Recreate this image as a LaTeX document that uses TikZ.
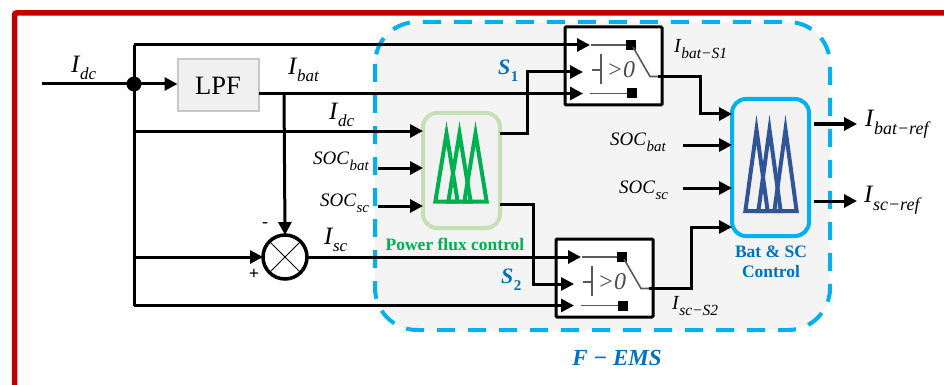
\documentclass[tikz,border=0pt]{standalone}
\usepackage{fontspec}
\setmainfont{Liberation Serif}
\usepackage{xcolor}
\usetikzlibrary{arrows.meta, positioning}
\definecolor{framered}{HTML}{C00000}
\definecolor{emscyan}{HTML}{00B0F0}
\definecolor{emsblue}{HTML}{0070C0}
\definecolor{fluxgreen}{HTML}{00B050}
\definecolor{fluxedge}{HTML}{C5E0B4}
\definecolor{fuzzyblue}{HTML}{2F5597}
\definecolor{panelgray}{HTML}{F4F4F4}
\newcommand{\sublbl}[3]{\textit{#1\kern.5pt\raisebox{-.3em}{\fontsize{#2}{#2}\selectfont #3}}}
\begin{document}
\begin{tikzpicture}[
  x=1pt, y=-1pt,
  wire/.style   = {line width=3pt, black},
  arr/.style    = {wire, -{Triangle[length=13pt,width=13pt]}},
  curlbl/.style = {inner sep=0pt, anchor=west, font=\fontsize{25}{27}\selectfont},
  swlbl/.style  = {inner sep=0pt, anchor=west, font=\fontsize{20}{22}\selectfont},
  soclbl/.style = {inner sep=0pt, anchor=west, font=\fontsize{19}{21}\selectfont},
  swbox/.style  = {draw=black, line width=3pt, fill=white, rounded corners=1pt,
                   minimum width=97pt, minimum height=78pt, inner sep=0pt, outer sep=0pt},
  swline/.style = {draw=black!65, line width=1.6pt},
  swdot/.style  = {fill=black, minimum size=10pt, inner sep=0pt, outer sep=0pt},
  lpfbox/.style = {draw=black!22, line width=2pt, fill=black!6, minimum width=81pt,
                   minimum height=52pt, inner sep=0pt, outer sep=0pt,
                   font=\fontsize{26.5}{28}\selectfont},
  fisbox/.style = {line width=4pt, fill=black!5, rounded corners=14pt,
                   inner sep=0pt, outer sep=0pt},
  ttl/.style    = {inner sep=0pt, align=center, font=\fontsize{17.5}{20}\selectfont\bfseries},
  pics/switchblock/.style = {code={
    \node[swbox] (-box) at (48.5,39) {};
    \coordinate (-in1) at (25,18);
    \coordinate (-in2) at (18,45);
    \coordinate (-in3) at (18,66.5);
    \coordinate (-out) at (93,49.5);
    \node[swdot] (-up) at (66,18) {};
    \node[swdot] (-dn) at (67,66.5) {};
    \draw[swline] (26,18) -- (-up);
    \draw[swline] (25,66.5) -- (-dn);
    \draw[swline] (68,20) -- (85,49.5) -- (-out);
    \draw[swline] (36,27) -- (36,57);
    \draw[swline] (27,43) -- (36,43);
    \node[inner sep=0pt, text=black!70, font=\fontsize{24}{26}\selectfont\itshape] (-cmp) at (56,42.5) {>0};
  }},
  pics/fuzzyset/.style = {code={
    \foreach \off in {0,13,29}
      \draw[line join=miter, line width=4pt, #1] (\off+2.36,-2) -- (\off+13.5,-70) -- (\off+24.64,-2) -- cycle;
  }}
]
\clip (0,0) rectangle (944,385);
\useasboundingbox (0,0) rectangle (944,385);
\draw[framered, line width=5.5pt, rounded corners=2pt] (14.5,385) -- (14.5,13) -- (944,13);
\draw[emscyan, fill=panelgray, line width=4pt, dash pattern=on 18pt off 13pt, rounded corners=42pt]
  (375,22) rectangle (830,330);

\fill (134,84) circle (7.5pt);
\coordinate (hub) at (134,84);
\coordinate (src) at (42,84);
\coordinate (bustop) at (134,45);
\coordinate (busbot) at (134,305.5);
\node[lpfbox] (lpf) at (218,85.5) {LPF};
\node[circle, draw=black, line width=3.5pt, fill=white, minimum size=44pt, inner sep=0pt, outer sep=0pt] (sum) at (285,257) {};
\draw[line width=1pt] (sum.45) -- (sum.225) (sum.135) -- (sum.315);

\pic (swa) at (565,27) {switchblock};
\pic (swb) at (556,239) {switchblock};

\node[fisbox, draw=fluxedge, minimum width=77pt, minimum height=115pt] (flux) at (461.5,170.5) {};
\node[fisbox, draw=emscyan, minimum width=77pt, minimum height=137pt] (ctrl) at (770.5,167.5) {};
\pic at (433,203.5) {fuzzyset=fluxgreen};
\pic[yscale=1.2] at (743,213.5) {fuzzyset=fuzzyblue};

\draw[wire] (src) -- (hub);
\draw[arr] (hub) -- (hub -| lpf.west);
\draw[wire] (bustop) -- (busbot);
\draw[arr] (bustop) -- (swa-in1);
\draw[arr] (swa-in3 -| lpf.east) -- (swa-in3);
\coordinate (lpftap) at (284,93.5);
\draw[arr] (lpftap) -- (sum.north);
\draw[arr] (134,131) -- (flux.west |- 0,131);
\draw[arr] (sum.west -| hub) -- (sum.west);
\draw[arr] (sum.east) -- (swb-in1);
\draw[arr] (busbot) -- (swb-in3);
\draw[arr] (flux.east |- 0,133) -- ++(27,0) |- (swa-in2);
\draw[arr] (flux.east |- 0,204) -- ++(33,0) |- (swb-in2);
\draw[arr] (swa-out) -- ++(42,0) |- (ctrl.west |- 0,114);
\draw[arr] (swb-out) -- ++(42,0) |- (ctrl.west |- 0,227);

\coordinate (socbatin) at (378,168);
\coordinate (socscin) at (378,206);
\coordinate (socbatb) at (683,145);
\coordinate (socscb) at (683,188);
\coordinate (outbat) at (814,124);
\coordinate (outsc) at (814,201);
\draw[arr] (socbatin) -- (socbatin -| flux.west);
\draw[arr] (socscin) -- (socscin -| flux.west);
\draw[arr] (socbatb) -- (socbatb -| ctrl.west);
\draw[arr] (socscb) -- (socscb -| ctrl.west);
\draw[arr] (outbat) -- ++(43,0);
\draw[arr] (outsc) -- ++(43,0);

\node[curlbl] (lblidc) at (71,68) {\sublbl{I}{17}{dc}};
\node[curlbl] (lblbat) at (288,70) {\sublbl{I}{17}{bat}};
\node[curlbl] (lblidcb) at (329,115) {\sublbl{I}{17}{dc}};
\node[curlbl] (lblisc) at (324,240) {\sublbl{I}{17}{sc}};
\node[soclbl] (lblsoca) at (313,161) {\sublbl{SOC}{15}{bat}};
\node[soclbl] (lblsocb) at (320,203) {\sublbl{SOC}{15}{sc}};
\node[soclbl] (lblsocc) at (610,142) {\sublbl{SOC}{15}{bat}};
\node[soclbl] (lblsocd) at (619,190) {\sublbl{SOC}{15}{sc}};
\node[swlbl] (lblsa) at (674,49) {\sublbl{I}{15.5}{bat−S1}};
\node[swlbl] (lblsb) at (672,306) {\sublbl{I}{15.5}{sc−S2}};
\node[curlbl] (lblrefa) at (865,124) {\sublbl{I}{18}{bat−ref}};
\node[curlbl] (lblrefb) at (864,200) {\sublbl{I}{18}{sc−ref}};
\node[curlbl, text=emsblue, font=\fontsize{22}{24}\selectfont\bfseries] (lblss) at (498,71) {\sublbl{S}{15}{\upshape 1}};
\node[curlbl, text=emsblue, font=\fontsize{22}{24}\selectfont\bfseries] (lblst) at (501,280) {\sublbl{S}{15}{\upshape 2}};
\node[inner sep=0pt, font=\fontsize{18}{20}\selectfont] (lblminus) at (265,225) {-};
\node[inner sep=0pt, font=\fontsize{18}{20}\selectfont\bfseries] (lblplus) at (254,274) {+};
\node[ttl, text=fluxgreen] (lblflux) at (455,244) {Power flux control};
\node[ttl, text=emsblue] (lblctrl) at (771,262) {Bat \& SC\\Control};
\node[inner sep=0pt, text=emsblue, font=\fontsize{23}{25}\selectfont\bfseries\itshape] (lblems) at (617,358) {F − EMS};
\end{tikzpicture}
\end{document}
